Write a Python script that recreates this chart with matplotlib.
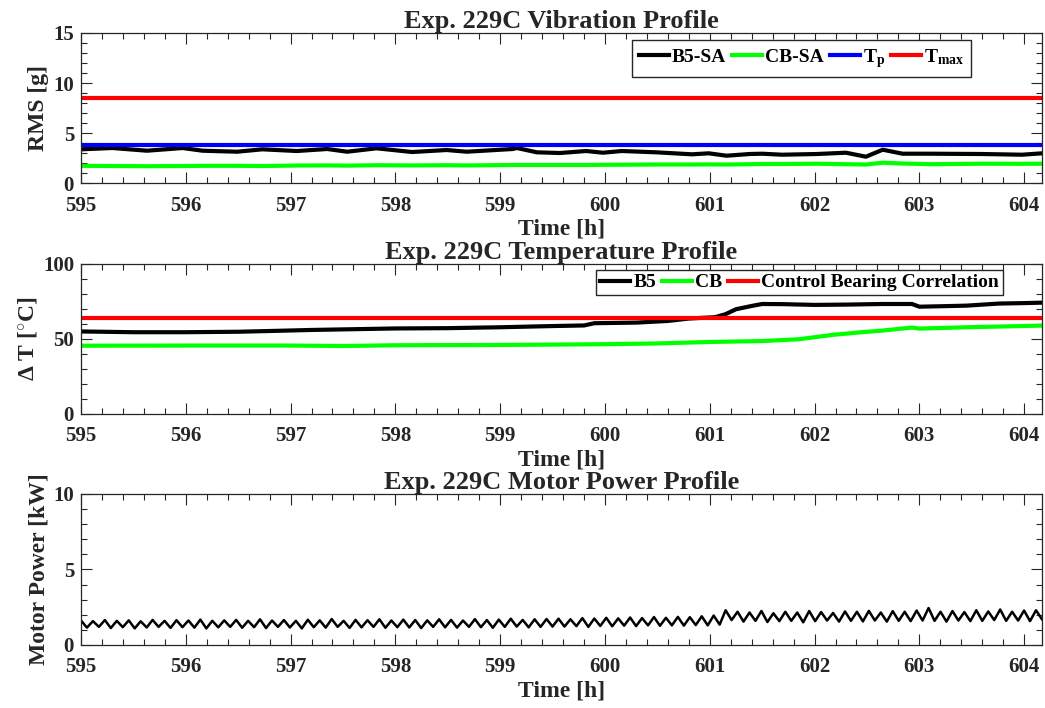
import numpy as np
import matplotlib
matplotlib.use('Agg')
import matplotlib.pyplot as plt
from matplotlib.ticker import MultipleLocator

# vibration RMS, hours
vib_t = [595.0, 595.3, 595.63, 595.97, 596.16, 596.49, 596.73, 597.06, 597.35, 597.54,
         597.82, 598.16, 598.49, 598.68, 599.12, 599.16, 599.35, 599.57, 599.82, 599.98,
         600.16, 600.49, 600.83, 600.99, 601.16, 601.38, 601.5, 601.69, 602.02, 602.3,
         602.49, 602.65, 602.84, 603.12, 603.6, 603.98, 604.17]
b5_sa = [3.37, 3.5, 3.23, 3.5, 3.23, 3.13, 3.37, 3.2, 3.4, 3.13,
         3.47, 3.1, 3.3, 3.13, 3.4, 3.5, 3.07, 3.0, 3.2, 3.03,
         3.2, 3.07, 2.87, 2.97, 2.73, 2.9, 2.93, 2.83, 2.9, 3.03,
         2.63, 3.33, 2.93, 2.93, 2.9, 2.83, 2.97]
cb_sa = [1.72, 1.7, 1.68, 1.7, 1.72, 1.72, 1.7, 1.75, 1.76, 1.74,
         1.78, 1.76, 1.78, 1.76, 1.8, 1.8, 1.8, 1.8, 1.8, 1.82,
         1.83, 1.85, 1.85, 1.86, 1.85, 1.88, 1.9, 1.9, 1.93, 1.88,
         1.85, 2.03, 1.95, 1.88, 1.93, 1.92, 1.93]
t_p = 3.8
t_max = 8.5

# bearing temperature rise
b5_t = [595.0, 595.5, 596.0, 596.5, 596.8, 597.2, 597.6, 598.0, 598.5, 599.0,
        599.5, 599.8, 599.9, 600.3, 600.6, 600.8, 601.05, 601.15, 601.25, 601.4,
        601.5, 601.7, 602.0, 602.3, 602.65, 602.93, 603.0, 603.2, 603.45, 603.76,
        604.0, 604.17]
b5_dt = [55.0, 54.5, 54.5, 54.8, 55.3, 56.0, 56.5, 57.0, 57.2, 57.8,
         58.6, 59.0, 60.5, 60.9, 62.0, 63.6, 64.5, 66.5, 69.8, 72.0,
         73.3, 73.2, 72.7, 72.9, 73.3, 73.3, 71.5, 71.8, 72.2, 73.6,
         73.9, 74.2]
cb_t = [595.0, 596.0, 597.0, 597.5, 598.0, 599.0, 600.0, 600.5, 601.0, 601.5,
        601.85, 602.17, 602.4, 602.65, 602.93, 603.0, 603.45, 604.17]
cb_dt = [45.5, 45.6, 45.6, 45.3, 45.8, 46.0, 46.5, 47.0, 48.0, 48.6,
         49.8, 52.7, 54.2, 55.6, 57.6, 56.9, 57.8, 58.9]
cb_corr = 64.0

# motor power swings (peak, trough per cycle)
power_peak = [1.62, 1.58, 1.65, 1.6, 1.63, 1.57, 1.66, 1.6, 1.64, 1.62,
              1.68, 1.6, 1.63, 1.66, 1.6, 1.7, 1.62, 1.65, 1.6, 1.67,
              1.63, 1.72, 1.6, 1.66, 1.64, 1.7, 1.62, 1.68, 1.65, 1.63,
              1.7, 1.66, 1.62, 1.71, 1.65, 1.68, 1.74, 1.66, 1.7, 1.72,
              1.74, 1.7, 1.78, 1.75, 1.8, 1.76, 1.82, 1.78, 1.85, 1.8,
              1.86, 1.84, 1.9, 1.95,
              2.3, 2.2, 2.15, 2.25, 2.1, 2.2, 2.15, 2.25, 2.18, 2.12,
              2.22, 2.2, 2.26, 2.15, 2.24, 2.2, 2.28, 2.45, 2.2, 2.25,
              2.18, 2.3, 2.22, 2.35, 2.2, 2.28, 2.3]
power_trough = [1.15, 1.2, 1.12, 1.18, 1.1, 1.16, 1.2, 1.13, 1.18, 1.15,
                1.1, 1.17, 1.2, 1.14, 1.18, 1.12, 1.2, 1.16, 1.1, 1.18,
                1.15, 1.2, 1.13, 1.17, 1.2, 1.14, 1.18, 1.16, 1.12, 1.2,
                1.17, 1.15, 1.2, 1.18, 1.14, 1.2, 1.22, 1.17, 1.2, 1.22,
                1.22, 1.25, 1.2, 1.26, 1.24, 1.28, 1.25, 1.3, 1.27, 1.3,
                1.28, 1.32, 1.3, 1.35,
                1.65, 1.55, 1.6, 1.52, 1.58, 1.6, 1.5, 1.58, 1.62, 1.55,
                1.6, 1.56, 1.62, 1.55, 1.6, 1.58, 1.62, 1.6, 1.55, 1.62,
                1.58, 1.6, 1.65, 1.6, 1.62, 1.58, 1.7]
power_kw = np.column_stack([power_peak, power_trough]).ravel()
power_t = np.linspace(595.0, 604.17, len(power_kw))

plt.rcParams['font.family'] = ['Liberation Serif', 'DejaVu Serif']
plt.rcParams['font.weight'] = 'bold'
plt.rcParams['axes.labelweight'] = 'bold'
plt.rcParams['axes.titleweight'] = 'bold'
plt.rcParams['mathtext.fontset'] = 'custom'
plt.rcParams['mathtext.rm'] = 'Liberation Serif:bold'
plt.rcParams['mathtext.it'] = 'Liberation Serif:bold'
plt.rcParams['mathtext.bf'] = 'Liberation Serif:bold'

dark = '#262626'
fig = plt.figure(figsize=(10.45, 7.08), dpi=100)
ax1 = fig.add_axes([0.0775, 0.7415, 0.9196, 0.2119])
ax2 = fig.add_axes([0.0775, 0.4153, 0.9196, 0.2119])
ax3 = fig.add_axes([0.0775, 0.0890, 0.9196, 0.2133])

def style(ax, ymax, ymajor, yminor):
    ax.set_xlim(595, 604.17)
    ax.set_ylim(0, ymax)
    ax.xaxis.set_major_locator(MultipleLocator(1))
    ax.xaxis.set_minor_locator(MultipleLocator(0.2))
    ax.yaxis.set_major_locator(MultipleLocator(ymajor))
    ax.yaxis.set_minor_locator(MultipleLocator(yminor))
    ax.tick_params(which='both', direction='in', top=True, right=True,
                   width=0.8, color=dark, labelcolor=dark, labelsize=15)
    ax.tick_params(axis='x', which='both', pad=9)
    ax.tick_params(axis='y', which='both', pad=5)
    ax.tick_params(which='major', length=8)
    ax.tick_params(which='minor', length=4)
    for s in ax.spines.values():
        s.set_color(dark)
        s.set_linewidth(0.9)
    ax.set_xlabel('Time [h]', fontsize=17, color=dark, labelpad=2)

leg_kw = dict(loc='upper right', borderaxespad=0, fontsize=14, fancybox=False,
              edgecolor=dark, framealpha=1, handlelength=1.55,
              handletextpad=0.15, columnspacing=0.3)

ax1.plot(vib_t, b5_sa, color='black', lw=3, label='B5-SA')
ax1.plot(vib_t, cb_sa, color='#00ff00', lw=3, label='CB-SA')
ax1.axhline(t_p, color='#0000ff', lw=3, label=r'$\mathrm{T_p}$')
ax1.axhline(t_max, color='#ff0000', lw=3, label=r'$\mathrm{T_{max}}$')
style(ax1, 15, 5, 1)
ax1.set_ylabel('RMS [g]', fontsize=17, color=dark, labelpad=3)
ax1.set_title('Exp. 229C Vibration Profile', fontsize=19, color=dark, pad=3)
ax1.legend(bbox_to_anchor=(0.926, 0.953), ncol=4, borderpad=0.35, **leg_kw)

ax2.plot(b5_t, b5_dt, color='black', lw=3, label='B5')
ax2.plot(cb_t, cb_dt, color='#00ff00', lw=3, label='CB')
ax2.axhline(cb_corr, color='#ff0000', lw=3, label='Control Bearing Correlation')
style(ax2, 100, 50, 10)
ax2.set_ylabel(r'$\Delta$ T [$^{\circ}$C]', fontsize=17, color=dark, labelpad=3)
ax2.set_title('Exp. 229C Temperature Profile', fontsize=19, color=dark, pad=3)
ax2.legend(bbox_to_anchor=(0.959, 0.96), ncol=3, borderpad=0.2, **leg_kw)

ax3.plot(power_t, power_kw, color='black', lw=1.8)
style(ax3, 10, 5, 1)
ax3.set_ylabel('Motor Power [kW]', fontsize=17, color=dark, labelpad=3)
ax3.set_title('Exp. 229C Motor Power Profile', fontsize=19, color=dark, pad=3)

fig.savefig('out.png', dpi=100)
